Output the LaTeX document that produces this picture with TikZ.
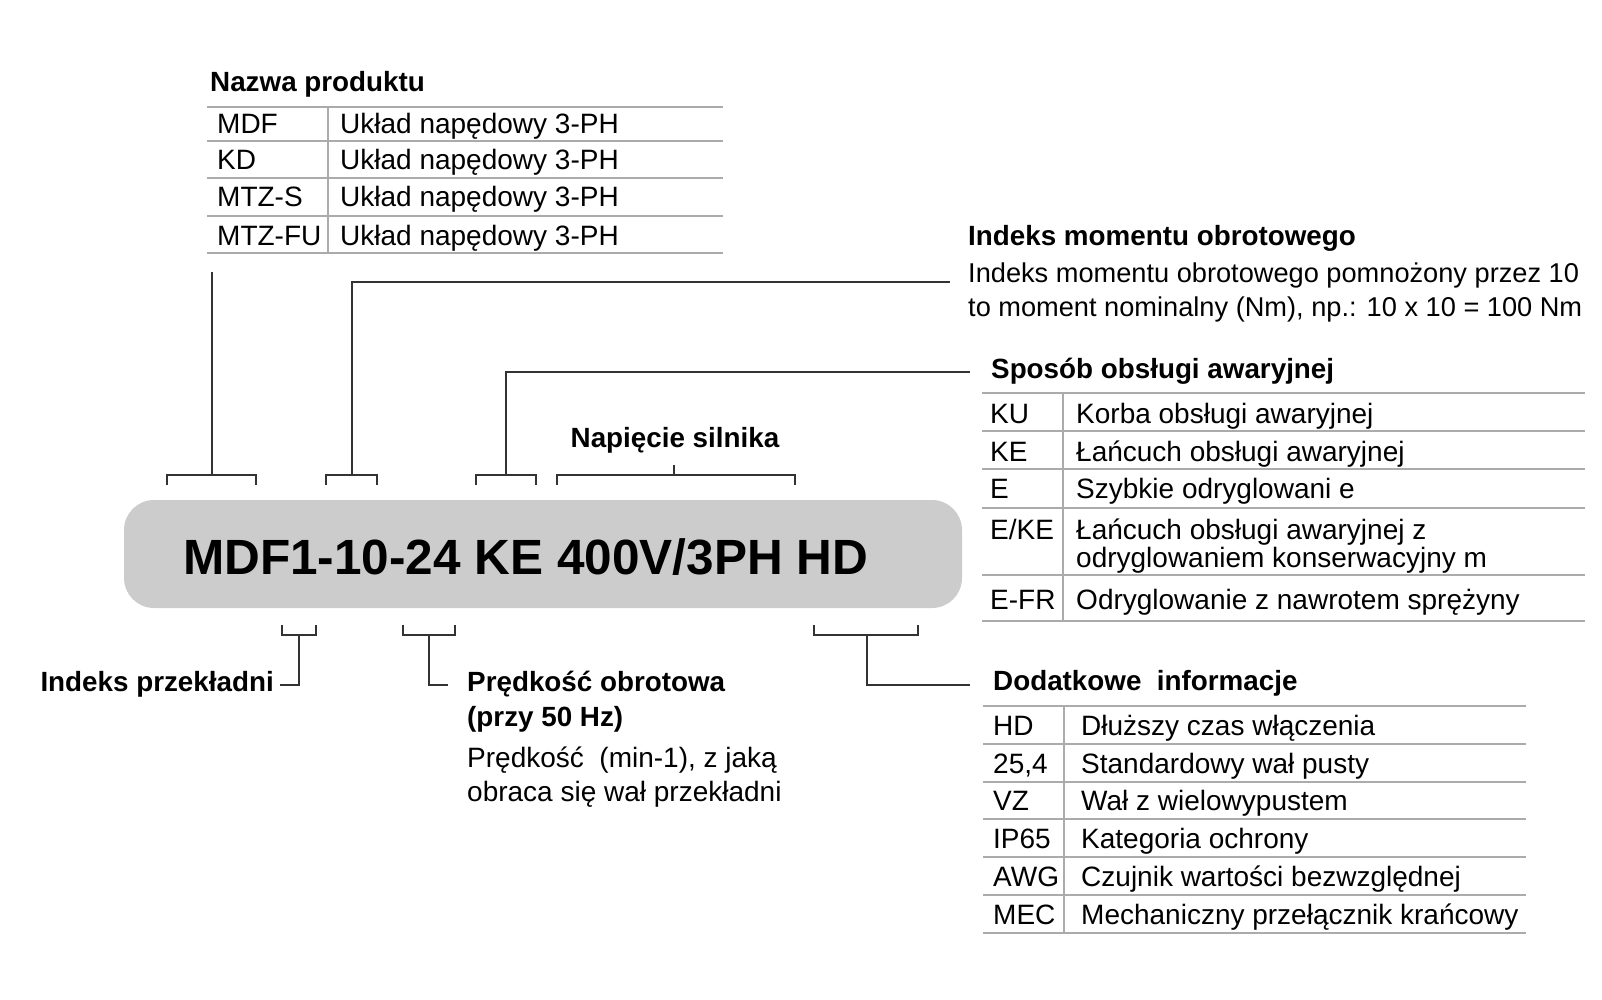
\documentclass[tikz,border=0pt]{standalone}
\usepackage{fontspec}
\setmainfont{Liberation Sans}
\usepackage{tikz}

\begin{document}
\begin{tikzpicture}[x=1pt, y=-1pt,
    lead/.style={draw=black!80, line width=1.6pt},
    rule/.style={draw=black!33, line width=1.8pt},
    head/.style={anchor=base west, inner sep=0pt, font=\fontsize{27.8}{32}\selectfont\bfseries},
    txt/.style={anchor=base west, inner sep=0pt, font=\fontsize{28}{33}\selectfont}]
    \useasboundingbox (0,0) rectangle (1602,1000);

    % type code plate
    \node [fill=black!20, rounded corners=30pt, minimum width=838pt, minimum height=108pt, inner sep=0pt] (plate) at (543,554) {};
    \node [anchor=base west, inner sep=0pt, font=\fontsize{49.5}{56}\selectfont\bfseries] (code) at (183,574) {MDF1-10-24 KE 400V/3PH HD};

    % Nazwa produktu
    \node [head] (prod) at (210,92) {Nazwa produktu};
    \draw [rule] (207,107) -- (723,107);
    \draw [rule] (207,141) -- (723,141);
    \draw [rule] (207,178) -- (723,178);
    \draw [rule] (207,216) -- (723,216);
    \draw [rule] (207,253) -- (723,253);
    \draw [rule] (328,107) -- (328,253);
    \node [txt] (p1k) at (217,134) {MDF};
    \node [txt] (p1v) at (340,134) {Układ napędowy 3-PH};
    \node [txt] (p2k) at (217,170) {KD};
    \node [txt] (p2v) at (340,170) {Układ napędowy 3-PH};
    \node [txt] (p3k) at (217,207) {MTZ-S};
    \node [txt] (p3v) at (340,207) {Układ napędowy 3-PH};
    \node [txt] (p4k) at (217,245) {MTZ-FU};
    \node [txt] (p4v) at (340,245) {Układ napędowy 3-PH};

    % Indeks momentu obrotowego
    \node [head] (mom) at (968,246) {Indeks momentu obrotowego};
    \node [txt, font=\fontsize{27.2}{33}\selectfont] (mom1) at (968,282) {Indeks momentu obrotowego pomnożony przez 10};
    \node [txt, font=\fontsize{27.2}{33}\selectfont] (mom2) at (968,316) {to moment nominalny (Nm), np.: 10 x 10 = 100 Nm};

    % Sposob obslugi awaryjnej
    \node [head] (awa) at (991,378) {Sposób obsługi awaryjnej};
    \draw [rule] (982,393) -- (1585,393);
    \draw [rule] (982,431) -- (1585,431);
    \draw [rule] (982,469) -- (1585,469);
    \draw [rule] (982,508) -- (1585,508);
    \draw [rule] (982,575) -- (1585,575);
    \draw [rule] (982,621) -- (1585,621);
    \draw [rule] (1063,393) -- (1063,621);
    \node [txt] (a1k) at (990,423) {KU};
    \node [txt] (a1v) at (1076,423) {Korba obsługi awaryjnej};
    \node [txt] (a2k) at (990,461) {KE};
    \node [txt] (a2v) at (1076,461) {Łańcuch obsługi awaryjnej};
    \node [txt] (a3k) at (990,498) {E};
    \node [txt] (a3v) at (1076,498) {Szybkie odryglowani e};
    \node [txt] (a4k) at (990,539) {E/KE};
    \node [txt] (a4v) at (1076,539) {Łańcuch obsługi awaryjnej z};
    \node [txt] (a4w) at (1076,567) {odryglowaniem konserwacyjny m};
    \node [txt] (a5k) at (990,609) {E-FR};
    \node [txt] (a5v) at (1076,609) {Odryglowanie z nawrotem sprężyny};

    % Napiecie silnika
    \node [head, anchor=base] (nap) at (675,447) {Napięcie silnika};

    % Indeks przekladni, Predkosc obrotowa
    \node [head, anchor=base east] (prz) at (274,691) {Indeks przekładni};
    \node [head] (obr) at (467,691) {Prędkość obrotowa};
    \node [head] (obr1) at (467,726) {(przy 50 Hz)};
    \node [txt] (obr2) at (467,767) {Prędkość\ \ (min-1), z jaką};
    \node [txt] (obr3) at (467,801) {obraca się wał przekładni};

    % Dodatkowe informacje
    \node [head] (dod) at (993,690) {Dodatkowe \ informacje};
    \draw [rule] (983,706) -- (1526,706);
    \draw [rule] (983,744) -- (1526,744);
    \draw [rule] (983,782) -- (1526,782);
    \draw [rule] (983,819) -- (1526,819);
    \draw [rule] (983,857) -- (1526,857);
    \draw [rule] (983,895) -- (1526,895);
    \draw [rule] (983,933) -- (1526,933);
    \draw [rule] (1064,706) -- (1064,933);
    \node [txt] (d1k) at (993,735) {HD};
    \node [txt] (d1v) at (1081,735) {Dłuższy czas włączenia};
    \node [txt] (d2k) at (993,773) {25,4};
    \node [txt] (d2v) at (1081,773) {Standardowy wał pusty};
    \node [txt] (d3k) at (993,810) {VZ};
    \node [txt] (d3v) at (1081,810) {Wał z wielowypustem};
    \node [txt] (d4k) at (993,848) {IP65};
    \node [txt] (d4v) at (1081,848) {Kategoria ochrony};
    \node [txt] (d5k) at (993,886) {AWG};
    \node [txt] (d5v) at (1081,886) {Czujnik wartości bezwzględnej};
    \node [txt] (d6k) at (993,924) {MEC};
    \node [txt] (d6v) at (1081,924) {Mechaniczny przełącznik krańcowy};

    % brackets over the code
    \coordinate (k1) at (212,475);
    \coordinate (k1e) at (212,272);
    \coordinate (k2) at (352,475);
    \coordinate (k2e) at (950,282);
    \coordinate (k3) at (506,475);
    \coordinate (k3e) at (970,372);
    \coordinate (k4) at (674,475);
    \coordinate (k4e) at (674,465);
    \draw [lead] (k1) ++(-45,10) -- ++(0,-10) -- ++(89,0) -- ++(0,10);
    \draw [lead] (k2) ++(-26,10) -- ++(0,-10) -- ++(51,0) -- ++(0,10);
    \draw [lead] (k3) ++(-30,10) -- ++(0,-10) -- ++(60,0) -- ++(0,10);
    \draw [lead] (k4) ++(-117,10) -- ++(0,-10) -- ++(238,0) -- ++(0,10);
    \draw [lead] (k1) -- (k1e);
    \draw [lead] (k2) |- (k2e);
    \draw [lead] (k3) |- (k3e);
    \draw [lead] (k4) -- (k4e);

    % brackets under the code
    \coordinate (k5) at (299,635);
    \coordinate (k5e) at (280,685);
    \coordinate (k6) at (429,635);
    \coordinate (k6e) at (448,685);
    \coordinate (k7) at (867,635);
    \coordinate (k7e) at (970,685);
    \draw [lead] (k5) ++(-17,-10) -- ++(0,10) -- ++(34,0) -- ++(0,-10);
    \draw [lead] (k6) ++(-26,-10) -- ++(0,10) -- ++(52,0) -- ++(0,-10);
    \draw [lead] (k7) ++(-53,-10) -- ++(0,10) -- ++(104,0) -- ++(0,-10);
    \draw [lead] (k5) |- (k5e);
    \draw [lead] (k6) |- (k6e);
    \draw [lead] (k7) |- (k7e);
\end{tikzpicture}
\end{document}
